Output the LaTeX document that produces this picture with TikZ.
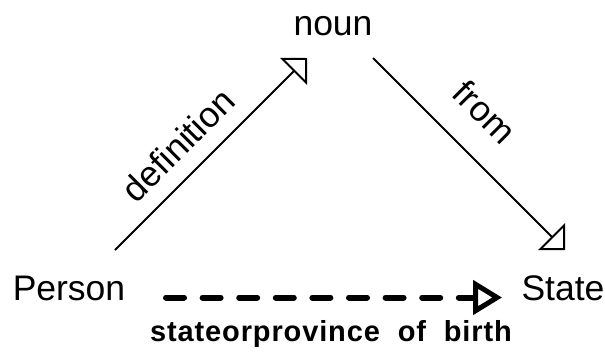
\documentclass[tikz,border=0pt]{standalone}
\usepackage{fontspec}
\setmainfont{Liberation Sans}
\usetikzlibrary{arrows.meta}
\begin{document}
\begin{tikzpicture}[x=1pt,y=-1pt,
  term/.style={font=\fontsize{35.5}{42}\selectfont, inner sep=0pt, anchor=base},
  edgelabel/.style={font=\fontsize{35.5}{42}\selectfont, inner sep=0pt},
  infolabel/.style={font=\fontsize{29}{34}\selectfont\bfseries\addfontfeature{LetterSpace=3}, inner sep=0pt, anchor=base},
  relation/.style={line width=2pt, -{Triangle[open,length=19pt,width=38pt,line width=2pt]}},
  inferred/.style={line width=6pt, line cap=round, dash pattern=on 18pt off 18.6pt,
    -{Triangle[open,length=29pt,width=34pt,line width=5pt]}}]
\useasboundingbox (0,0) rectangle (605,351);

% concepts
\node[term] (noun)   at (333,35)  {noun};
\node[term] (person) at (69,300)  {Person};
\node[term] (state)  at (563,300) {State};

% end points of the relations
\coordinate (defStart)   at (115,250);
\coordinate (defEnd)     at (307,58);
\coordinate (fromStart)  at (373,58);
\coordinate (fromEnd)    at (565,250);
\coordinate (birthStart) at (166,297.5);
\coordinate (birthEnd)   at (502,297.5);

% relations
\draw[relation] (defStart) -- (defEnd);
\draw[relation] (fromStart) -- (fromEnd);
\draw[inferred] (birthStart) -- (birthEnd);

% relation labels
\node[edgelabel, rotate=45]  (defLabel)   at (178,145) {definition};
\node[edgelabel, rotate=-45] (fromLabel)  at (485,112) {from};
\node[infolabel]             (birthLabel) at (331,341.5) {stateorprovince\ \ of\ \ birth};
\end{tikzpicture}
\end{document}
